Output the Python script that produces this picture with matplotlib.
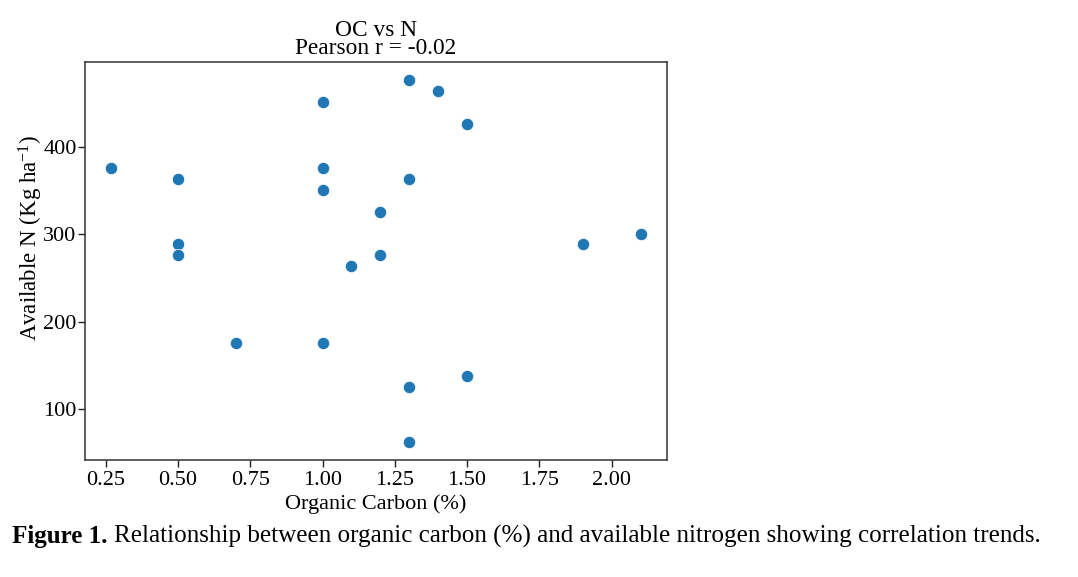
import matplotlib
matplotlib.use("Agg")
import matplotlib.pyplot as plt

plt.rcParams['font.family'] = ['Liberation Serif', 'DejaVu Serif']
plt.rcParams['mathtext.fontset'] = 'custom'
plt.rcParams['mathtext.rm'] = 'Liberation Serif'
plt.rcParams['mathtext.it'] = 'Liberation Serif:italic'

organic_carbon = [0.27, 0.5, 0.5, 0.5, 0.7, 1.0, 1.0, 1.0, 1.0, 1.1, 1.2, 1.2,
                  1.3, 1.3, 1.3, 1.3, 1.4, 1.5, 1.5, 1.9, 2.1]
available_n = [376, 364, 289, 276, 176, 452, 376, 351, 176, 264, 326, 276,
               477, 364, 125, 62, 464, 427, 138, 289, 301]
x_ticks = [0.25, 0.50, 0.75, 1.00, 1.25, 1.50, 1.75, 2.00]
y_ticks = [100, 200, 300, 400]

W, H = 1078, 577
fig = plt.figure(figsize=(W / 100, H / 100), dpi=100)
ax = fig.add_axes([85 / W, 1 - 460 / H, (667 - 85) / W, (460 - 62) / H])

ax.scatter(organic_carbon, available_n, s=78, color='#1f77b4',
           edgecolor='white', linewidth=0.5, zorder=3)

ax.set_xticks(x_ticks)
ax.set_xticklabels([f"{t:.2f}" for t in x_ticks])
ax.set_yticks(y_ticks)
ax.tick_params(labelsize=16, length=5, width=1, colors='#222222', labelcolor='black')
ax.tick_params(axis='y', pad=1)
ax.tick_params(axis='x', pad=3)
for sp in ax.spines.values():
    sp.set_color('#333333')
    sp.set_linewidth(1.1)

ax.set_xlabel("Organic Carbon (%)", fontsize=16, labelpad=3)
fig.text(31 / W, 1 - 238 / H, r"Available N (Kg ha$^{-1}$)", fontsize=16.5,
         rotation=90, ha='center', va='center')
ax.set_title("OC vs N\nPearson r = -0.02", fontsize=16.8, linespacing=0.8, pad=6)

fig.canvas.draw()
t1 = fig.text(12 / W, 1 - 543 / H, "Figure 1.", fontsize=18.1, fontweight='bold',
              ha='left', va='baseline')
fig.canvas.draw()
bb = t1.get_window_extent()
fig.text((bb.x1 + 6) / W, 1 - 543 / H,
         "Relationship between organic carbon (%) and available nitrogen showing correlation trends.",
         fontsize=18.1, ha='left', va='baseline')

fig.savefig("out.png", dpi=100)
